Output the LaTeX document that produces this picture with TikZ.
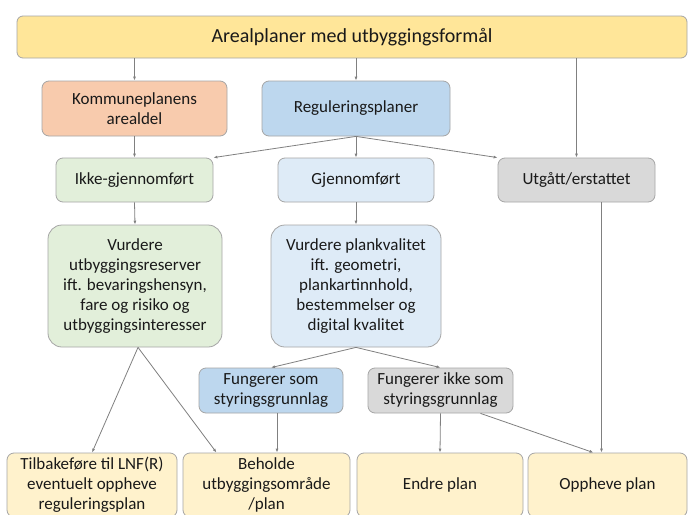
\documentclass[tikz,border=0pt]{standalone}
\usepackage{fontspec}
\setmainfont{Carlito}
\usetikzlibrary{arrows.meta}
\definecolor{areayellow}{HTML}{FFE699}
\definecolor{kommorange}{HTML}{F8CBAD}
\definecolor{regblue}{HTML}{BDD7EE}
\definecolor{paleblue}{HTML}{DEEBF7}
\definecolor{palegreen}{HTML}{E2EFDA}
\definecolor{palegray}{HTML}{D9D9D9}
\definecolor{paleyellow}{HTML}{FFF2CC}
\begin{document}
\begin{tikzpicture}[x=1pt,y=-1pt,
    box/.style={draw=black!35, line width=0.8pt, rounded corners=7pt, align=center,
        text=black!90, inner sep=0pt, font=\fontsize{17}{20}\selectfont},
    bigbox/.style={box, rounded corners=14pt},
    link/.style={draw=black!50, line width=0.8pt, -{Latex[length=4pt,width=3pt]}}]
    \clip (0,0) rectangle (688,514);
    \fill[white] (0,0) rectangle (688,514);
    \node[box, fill=areayellow, minimum width=670pt, minimum height=42pt, rounded corners=6pt,
        font=\fontsize{20}{24}\selectfont] (top) at (352,37) {Arealplaner med utbyggingsformål};
    \node[box, fill=kommorange, minimum width=185pt, minimum height=55pt] (komm) at (134.5,108.5) {Kommuneplanens\\arealdel};
    \node[box, fill=regblue, minimum width=188pt, minimum height=55pt] (regul) at (356,108.5) {Reguleringsplaner};
    \node[box, fill=palegreen, minimum width=157pt, minimum height=44pt] (ikke) at (134.5,180) {Ikke-gjennomført};
    \node[box, fill=paleblue, minimum width=156pt, minimum height=44pt] (gjen) at (356,180) {Gjennomført};
    \node[box, fill=palegray, minimum width=157pt, minimum height=44pt] (utg) at (576.5,180) {Utgått/erstattet};
    \node[bigbox, fill=palegreen, minimum width=174pt, minimum height=122pt] (vurdutb) at (135,286)
        {Vurdere\\utbyggingsreserver\\ift. bevaringshensyn,\\fare og risiko og\\utbyggingsinteresser};
    \node[bigbox, fill=paleblue, minimum width=170pt, minimum height=122pt] (vurdplan) at (356,286)
        {Vurdere plankvalitet\\ift. geometri,\\plankartinnhold,\\bestemmelser og\\digital kvalitet};
    \node[box, fill=regblue, minimum width=144pt, minimum height=45pt] (fsom) at (271,390.5) {Fungerer som\\styringsgrunnlag};
    \node[box, fill=palegray, minimum width=145pt, minimum height=45pt] (fikke) at (440.5,390.5) {Fungerer ikke som\\styringsgrunnlag};
    \node[box, fill=paleyellow, minimum width=170pt, minimum height=64pt] (tilb) at (92,485)
        {Tilbakeføre til LNF(R)\\eventuelt oppheve\\reguleringsplan};
    \node[box, fill=paleyellow, minimum width=167pt, minimum height=64pt] (beh) at (266.5,485)
        {Beholde\\utbyggingsområde\\/plan};
    \node[box, fill=paleyellow, minimum width=166pt, minimum height=64pt] (endre) at (440,485) {Endre plan};
    \node[box, fill=paleyellow, minimum width=159pt, minimum height=64pt] (opp) at (607.5,485) {Oppheve plan};
    \draw[link] (top.south -| komm.north) -- (komm.north);
    \draw[link] (top.south -| regul.north) -- (regul.north);
    \draw[link] (top.south -| utg.north) -- (utg.north);
    \draw[link] (komm.south) -- (ikke.north);
    \draw[link] (regul.south) -- (ikke.north east);
    \draw[link] (regul.south) -- (gjen.north);
    \draw[link] (regul.south) -- (utg.north west);
    \draw[link] (ikke.south) -- (vurdutb.north);
    \draw[link] (gjen.south) -- (vurdplan.north);
    \draw[link] ([xshift=3pt]vurdutb.south) -- (tilb.north);
    \draw[link] ([xshift=3pt]vurdutb.south) -- ([xshift=-50pt]beh.north);
    \draw[link] (vurdplan.south) -- (fsom.north);
    \draw[link] (vurdplan.south) -- (fikke.north);
    \draw[link] ([xshift=6pt]fsom.south) -- ([xshift=6pt]fsom.south |- beh.north);
    \draw[link] (fikke.south) -- (endre.north);
    \draw[link] ([xshift=40pt]fikke.south) -- ([xshift=-14pt]opp.north);
    \draw[link] ([xshift=25pt]utg.south) -- ([xshift=25pt]utg.south |- opp.north);
\end{tikzpicture}
\end{document}
